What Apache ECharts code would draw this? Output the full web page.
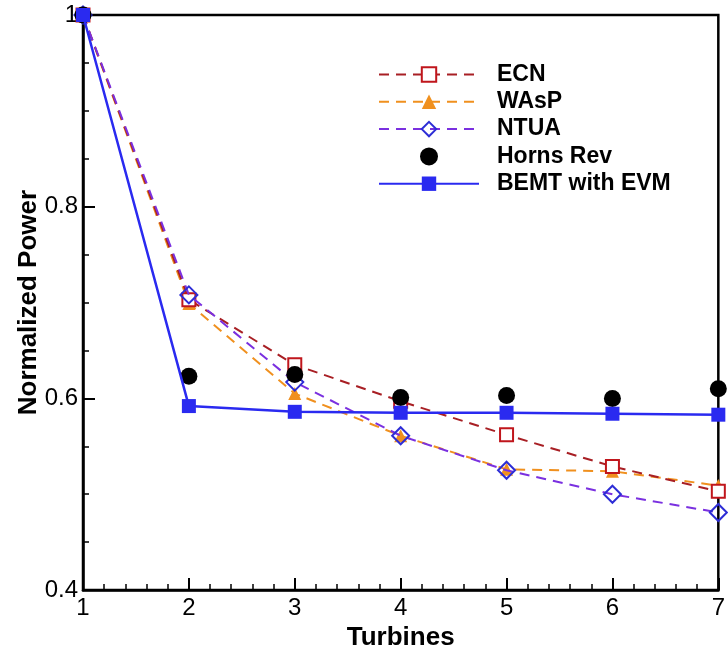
<!DOCTYPE html>
<html>
<head>
<meta charset="utf-8">
<script src="https://cdn.jsdelivr.net/npm/echarts@6/dist/echarts.min.js"></script>
<style>
html,body{margin:0;padding:0;background:#fff;}
#chart{width:728px;height:656px;}
</style>
</head>
<body>
<div id="chart"></div>
<script>
// Data
const turbines = [1, 2, 3, 4, 5, 6, 7];
const ecn      = [1.000, 0.703, 0.635, 0.597, 0.562, 0.529, 0.503];
const wasp     = [1.000, 0.699, 0.605, 0.561, 0.526, 0.524, 0.509];
const ntua     = [1.000, 0.708, 0.617, 0.561, 0.525, 0.500, 0.481];
const hornsRev = [1.000, 0.623, 0.625, 0.601, 0.603, 0.600, 0.610];
const bemt     = [1.000, 0.592, 0.586, 0.585, 0.585, 0.584, 0.583];
const seriesNames = ['ECN', 'WAsP', 'NTUA', 'Horns Rev', 'BEMT with EVM'];

function pairs(arr) { return turbines.map((t, i) => [t, arr[i]]); }

const chart = echarts.init(document.getElementById('chart'), null, {renderer: 'canvas'});
const font = '"Liberation Sans", Arial, sans-serif';
const dash = [10, 7];

chart.setOption({
  animation: false,
  backgroundColor: '#fff',
  grid: {
    left: 83, right: 7, top: 15, bottom: 61,
    show: true, borderColor: '#000', borderWidth: 2.5, backgroundColor: 'transparent'
  },
  legend: {
    orient: 'vertical',
    left: 373, top: 58,
    itemWidth: 100, itemHeight: 18, itemGap: 4.3,
    data: seriesNames,
    textStyle: {fontFamily: font, fontWeight: 'bold', fontSize: 23, color: '#000', padding: [0, 0, 0, 13]}
  },
  xAxis: {
    type: 'value', min: 1, max: 7, interval: 1,
    name: 'Turbines', nameLocation: 'middle', nameGap: 31,
    nameTextStyle: {fontFamily: font, fontWeight: 'bold', fontSize: 26, color: '#000'},
    axisLine: {show: true, onZero: false, lineStyle: {color: '#000', width: 2.5}},
    axisTick: {show: true, inside: true, length: 12, lineStyle: {color: '#000', width: 2}},
    minorTick: {show: true, splitNumber: 5, length: 6, lineStyle: {color: '#000', width: 1.5}},
    splitLine: {show: false},
    axisLabel: {fontFamily: font, fontSize: 24, color: '#000', margin: 6, showMaxLabel: true, showMinLabel: true}
  },
  yAxis: {
    type: 'value', min: 0.4, max: 1, interval: 0.2,
    name: 'Normalized Power', nameLocation: 'middle', nameGap: 41, nameMoveOverlap: false,
    nameTextStyle: {fontFamily: font, fontWeight: 'bold', fontSize: 26, color: '#000'},
    axisLine: {show: true, onZero: false, lineStyle: {color: '#000', width: 2.5}},
    axisTick: {show: true, inside: true, length: 12, lineStyle: {color: '#000', width: 2}},
    minorTick: {show: true, splitNumber: 4, length: 6, lineStyle: {color: '#000', width: 1.5}},
    splitLine: {show: false},
    axisLabel: {
      fontFamily: font, fontSize: 24, color: '#000', margin: 5,
      formatter: v => (Math.abs(v - 1) < 1e-9 ? '1' : v.toFixed(1))
    }
  },
  series: [
    {
      name: 'WAsP', type: 'line', data: pairs(wasp), z: 2,
      symbol: 'triangle', symbolSize: 13,
      lineStyle: {color: '#f0901e', width: 2, type: dash},
      itemStyle: {color: '#f0901e', borderWidth: 0}
    },
    {
      name: 'ECN', type: 'line', data: pairs(ecn), z: 3,
      symbol: 'rect', symbolSize: 13,
      lineStyle: {color: '#a81f24', width: 2, type: dash},
      itemStyle: {color: '#fff', borderColor: '#c0161c', borderWidth: 2}
    },
    {
      name: 'NTUA', type: 'line', data: pairs(ntua), z: 4,
      symbol: 'diamond', symbolSize: 17,
      lineStyle: {color: '#7a30e0', width: 2, type: dash},
      itemStyle: {color: 'rgba(255,255,255,0)', borderColor: '#2d2dd6', borderWidth: 2}
    },
    {
      name: 'Horns Rev', type: 'scatter', data: pairs(hornsRev), z: 5,
      symbol: 'circle', symbolSize: 17,
      itemStyle: {color: '#000', opacity: 1}
    },
    {
      name: 'BEMT with EVM', type: 'line', data: pairs(bemt), z: 6,
      symbol: 'rect', symbolSize: 14,
      lineStyle: {color: '#2a2af0', width: 2.5, type: 'solid'},
      itemStyle: {color: '#2a2af0'}
    }
  ]
});
</script>
</body>
</html>
